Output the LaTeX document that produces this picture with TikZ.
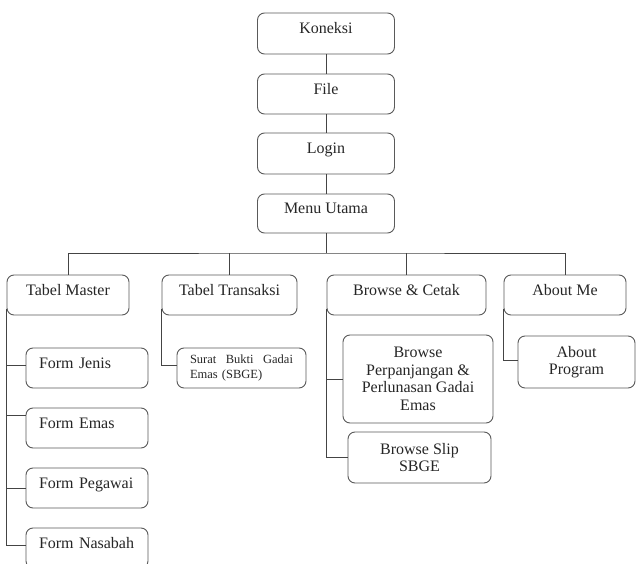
\documentclass[tikz,border=0pt]{standalone}
\usepackage{fontspec}
\setmainfont{Liberation Serif}
\definecolor{boxc}{HTML}{5A5A5A}
\definecolor{linec}{HTML}{444444}
\definecolor{txt}{HTML}{262626}
\tikzset{
  box/.style={draw=boxc, line width=0.9pt, rounded corners=7pt, text=txt,
    inner xsep=0pt, inner ysep=0pt, font=\fontsize{16}{17.5}\selectfont},
  onel/.style={box, text height=12pt, text depth=11pt},
  formbox/.style={onel, minimum width=122pt, minimum height=40pt,
    text width=96pt, inner xsep=13pt, align=left},
  multi/.style={box, align=center},
  conn/.style={draw=linec, line width=0.9pt},
}
\begin{document}
\begin{tikzpicture}[x=1pt, y=-1pt]
\useasboundingbox (0,0) rectangle (637,564);
\clip (0,0) rectangle (637,564);
\fill[white] (0,0) rectangle (637,564);

% main chain
\node[onel, minimum width=137pt, minimum height=41pt] (kon)   at (326,33.5)  {Koneksi};
\node[onel, minimum width=137pt, minimum height=40pt] (file)  at (326,94)    {File};
\node[onel, minimum width=137pt, minimum height=41pt] (login) at (326,153.5) {Login};
\node[onel, minimum width=137pt, minimum height=39pt] (menu)  at (326,213.5) {Menu Utama};

% second level
\node[onel, minimum width=122pt, minimum height=40pt] (tm) at (68,295)    {Tabel Master};
\node[onel, minimum width=135pt, minimum height=40pt] (tt) at (229.5,295) {Tabel Transaksi};
\node[onel, minimum width=159pt, minimum height=40pt] (bc) at (406.5,295) {Browse \& Cetak};
\node[onel, minimum width=122pt, minimum height=40pt] (am) at (565,295)   {About Me};

% master forms
\node[formbox] (fj) at (87,368) {Form Jenis};
\node[formbox] (fe) at (87,428) {Form Emas};
\node[formbox] (fp) at (87,488) {Form Pegawai};
\node[formbox] (fn) at (87,548) {Form Nasabah};

% transaction form
\node[box, minimum width=129pt, minimum height=40pt, text width=103pt,
      inner xsep=13pt, align=left, font=\fontsize{12.5}{15}\selectfont]
  (sb) at (241.5,368) {Surat\hfill Bukti\hfill Gadai\\Emas (SBGE)};

% browse forms
\node[multi, minimum width=150pt, minimum height=88pt] (bp) at (418,379)
  {Browse\\Perpanjangan \&\\Perlunasan Gadai\\Emas};
\node[multi, minimum width=143pt, minimum height=51pt] (bs) at (419.5,457.5)
  {Browse Slip\\SBGE};

% about
\node[multi, minimum width=117pt, minimum height=52pt] (ap) at (576.5,362)
  {About\\Program};

% connectors
\coordinate (bus) at (326,253);
\draw[conn] (kon.south) -- (file.north);
\draw[conn] (file.south) -- (login.north);
\draw[conn] (login.south) -- (menu.north);
\draw[conn] (menu.south) -- (bus);
\draw[conn] (tm.north) |- (bus) -| (am.north);
\draw[conn] (tt.north) -- (tt.north |- bus);
\draw[conn] (bc.north) -- (bc.north |- bus);

\draw[conn] ([yshift=6pt]tm.south west) |- ([yshift=3pt]fj.west);
\draw[conn] ([yshift=6pt]tm.south west) |- ([yshift=13pt]fe.west);
\draw[conn] ([yshift=6pt]tm.south west) |- (fp.west);
\draw[conn] ([yshift=6pt]tm.south west) |- ([yshift=3pt]fn.west);

\draw[conn] ([yshift=6pt]tt.south west) |- ([yshift=3pt]sb.west);

\draw[conn] ([yshift=6pt]bc.south west) |- (bp.west);
\draw[conn] ([yshift=6pt]bc.south west) |- (bs.west);

\draw[conn] ([yshift=6pt]am.south west) |- ([yshift=2pt]ap.west);
\end{tikzpicture}
\end{document}
